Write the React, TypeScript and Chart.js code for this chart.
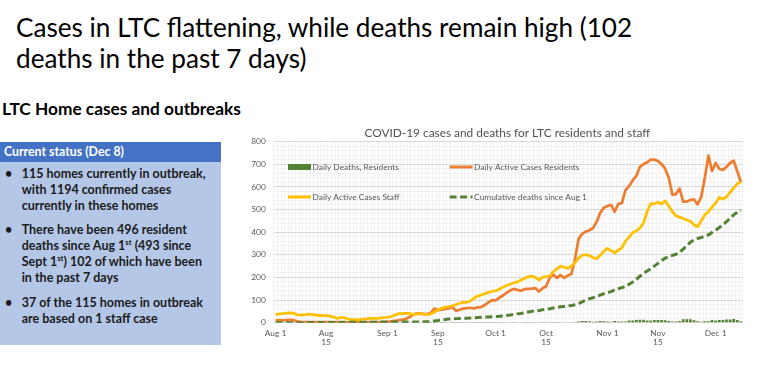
import React, { useEffect, useRef } from "react";
import { Chart, registerables } from "chart.js";

Chart.register(...registerables);

// ---------- DATA ----------
const MONTHS = ["Jan", "Feb", "Mar", "Apr", "May", "Jun", "Jul", "Aug", "Sep", "Oct", "Nov", "Dec"];
const DAY_COUNT = 130; // Aug 1 .. Dec 8
const CATEGORIES: string[] = Array.from({ length: DAY_COUNT }, (_, i) => {
  const d = new Date(2020, 7, 1 + i);
  return `${MONTHS[d.getMonth()]} ${d.getDate()}`;
});

const X_TICK_DATES = ["Aug 1", "Aug 15", "Sep 1", "Sep 15", "Oct 1", "Oct 15", "Nov 1", "Nov 15", "Dec 1"];
const X_TICK_TEXT: (string | string[])[] = [
  "Aug 1", ["Aug", "15"], "Sep 1", ["Sep", "15"], "Oct 1", ["Oct", "15"], "Nov 1", ["Nov", "15"], "Dec 1",
];
const Y_MAX = 800;
const Y_MAJOR = 100;

const DAILY_DEATHS = [
  0, 0, 0, 0, 0, 0, 0, 0, 0, 1,
  0, 0, 0, 0, 0, 0, 0, 0, 0, 1,
  0, 0, 0, 0, 0, 0, 0, 0, 0, 1,
  0, 0, 0, 0, 0, 0, 0, 0, 0, 0,
  0, 1, 0, 1, 3, 2, 3, 1, 2, 1,
  1, 1, 1, 0, 1, 1, 1, 1, 1, 0,
  1, 1, 1, 2, 2, 2, 3, 2, 2, 3,
  3, 3, 2, 2, 3, 3, 2, 3, 3, 2,
  2, 2, 2, 3, 5, 8, 8, 6, 4, 5,
  7, 6, 5, 4, 8, 5, 5, 5, 10, 10,
  12, 13, 13, 10, 10, 12, 12, 12, 11, 7,
  5, 5, 8, 15, 15, 15, 11, 6, 4, 6,
  6, 12, 10, 12, 12, 14, 14, 16, 12, 6,
];

const RESIDENT_ACTIVE = [
  10, 10, 10, 11, 12, 11, 6, 4, 3, 3,
  3, 2, 2, 2, 2, 2, 2, 2, 2, 1,
  1, 1, 1, 1, 1, 2, 2, 2, 2, 3,
  3, 4, 6, 8, 10, 13, 16, 24, 34, 40,
  41, 39, 38, 42, 62, 56, 58, 61, 63, 70,
  52, 57, 62, 64, 66, 63, 68, 69, 78, 90,
  100, 98, 110, 120, 132, 142, 149, 145, 141, 148,
  149, 150, 153, 138, 152, 160, 200, 212, 198, 210,
  198, 208, 215, 280, 370, 392, 402, 408, 418, 445,
  485, 508, 515, 520, 490, 525, 528, 585, 603, 628,
  648, 688, 700, 708, 720, 720, 714, 700, 680, 640,
  565, 568, 592, 535, 535, 542, 544, 522, 555, 640,
  738, 670, 705, 680, 674, 688, 705, 715, 668, 620,
];

const STAFF_ACTIVE = [
  37, 39, 40, 42, 43, 42, 35, 34, 34, 38,
  37, 33, 32, 31, 31, 29, 26, 19, 22, 22,
  16, 15, 13, 13, 16, 17, 19, 19, 19, 20,
  22, 24, 27, 33, 40, 40, 41, 41, 37, 38,
  40, 38, 35, 38, 47, 56, 64, 68, 71, 75,
  80, 86, 90, 90, 96, 108, 118, 122, 128, 134,
  138, 141, 148, 157, 164, 170, 175, 180, 188, 195,
  203, 206, 200, 188, 200, 204, 206, 225, 238, 250,
  245, 240, 250, 265, 285, 298, 300, 296, 288, 282,
  298, 315, 328, 318, 308, 320, 330, 360, 378, 398,
  405, 418, 440, 490, 526, 525, 532, 524, 538, 515,
  490, 472, 466, 460, 453, 448, 432, 424, 450, 476,
  490, 510, 528, 553, 546, 555, 575, 595, 614, 620,
];

const CUMULATIVE_DEATHS = [
  0, 0, 0, 0, 0, 0, 0, 0, 0, 1,
  1, 1, 1, 1, 1, 1, 1, 1, 1, 2,
  2, 2, 2, 2, 2, 2, 2, 2, 2, 3,
  3, 3, 3, 3, 3, 3, 3, 3, 3, 3,
  3, 4, 4, 5, 8, 10, 13, 14, 16, 17,
  18, 19, 20, 20, 21, 22, 23, 24, 25, 25,
  26, 27, 28, 30, 32, 34, 37, 39, 41, 44,
  47, 50, 52, 54, 57, 60, 62, 65, 68, 70,
  72, 74, 76, 79, 84, 92, 100, 106, 110, 115,
  122, 128, 133, 137, 145, 150, 155, 160, 170, 180,
  192, 205, 218, 228, 238, 250, 262, 274, 285, 292,
  297, 302, 310, 325, 340, 355, 366, 372, 376, 382,
  388, 398, 408, 420, 432, 446, 460, 476, 488, 496,
];

const CHART_TITLE = "COVID-19 cases and deaths for LTC residents and staff";
const LEGEND_LABELS = [
  "Daily Deaths, Residents",
  "Daily Active Cases Residents",
  "Daily Active Cases Staff",
  "Cumulative deaths since Aug 1",
];

// ---------- STYLE ----------
const C_ORANGE = "#ED7D31";
const C_YELLOW = "#FFC000";
const C_GREEN = "#548235";
const C_AXIS_TEXT = "#595959";
const FONT = "Lato";

const measureCanvas = typeof document !== "undefined" ? document.createElement("canvas") : null;
function fitSize(text: string, weight: number, target: number): number {
  const ctx = measureCanvas!.getContext("2d")!;
  ctx.font = `${weight} 100px ${FONT}`;
  const w = ctx.measureText(text).width;
  return (100 * target) / w;
}

const CANVAS_LEFT = 230;
const CANVAS_TOP = 118;
const CANVAS_W = 530;
const CANVAS_H = 252;

export default function App() {
  const canvasRef = useRef<HTMLCanvasElement>(null);

  const titleSize = fitSize("Cases in LTC flattening, while deaths remain high (102", 400, 617);
  const subSize = fitSize("LTC Home cases and outbreaks", 700, 239);
  const headSize = fitSize("Current status (Dec 8)", 700, 120);
  const bodySize = fitSize("115 homes currently in outbreak,", 700, 184.5);

  useEffect(() => {
    const chartTitleSize = fitSize(CHART_TITLE, 400, 286);
    const legendSize = fitSize(LEGEND_LABELS[0], 400, 86.5);
    const tickSize = 8.4;

    const overlay = {
      id: "overlay",
      afterDraw(chart: any) {
        const ctx = chart.ctx as CanvasRenderingContext2D;
        const area = chart.chartArea;
        ctx.save();
        ctx.fillStyle = "#505050";
        ctx.font = `400 ${chartTitleSize}px ${FONT}`;
        ctx.textAlign = "center";
        ctx.textBaseline = "middle";
        ctx.fillText(CHART_TITLE, (area.left + area.right) / 2 - 1, 15);

        const cols = [58, 219.6];
        const rows = [49, 79];
        const symW = 23;
        ctx.font = `400 ${legendSize}px ${FONT}`;
        ctx.textAlign = "left";
        LEGEND_LABELS.forEach((label, i) => {
          const x = cols[i % 2];
          const y = rows[Math.floor(i / 2)];
          ctx.save();
          if (i === 0) {
            ctx.fillStyle = C_GREEN;
            ctx.fillRect(x, y - 3, symW, 6);
          } else {
            ctx.strokeStyle = i === 1 ? C_ORANGE : i === 2 ? C_YELLOW : C_GREEN;
            ctx.lineWidth = 3;
            if (i === 3) ctx.setLineDash([7, 3.5]);
            ctx.beginPath();
            ctx.moveTo(x, y);
            ctx.lineTo(x + symW, y);
            ctx.stroke();
          }
          ctx.restore();
          ctx.fillStyle = C_AXIS_TEXT;
          ctx.fillText(label, x + symW + 1.5, y + 0.5);
        });
        ctx.restore();
      },
    };

    const chart = new Chart(canvasRef.current!, {
      type: "bar",
      data: {
        labels: CATEGORIES,
        datasets: [
          {
            type: "bar",
            label: LEGEND_LABELS[0],
            data: DAILY_DEATHS,
            backgroundColor: C_GREEN,
            barPercentage: 0.75,
            categoryPercentage: 1,
            order: 4,
          },
          {
            type: "line",
            label: LEGEND_LABELS[1],
            data: RESIDENT_ACTIVE,
            borderColor: C_ORANGE,
            borderWidth: 2.75,
            pointRadius: 0,
            tension: 0,
            borderJoinStyle: "round",
            order: 3,
          },
          {
            type: "line",
            label: LEGEND_LABELS[2],
            data: STAFF_ACTIVE,
            borderColor: C_YELLOW,
            borderWidth: 2.75,
            pointRadius: 0,
            tension: 0,
            borderJoinStyle: "round",
            order: 2,
          },
          {
            type: "line",
            label: LEGEND_LABELS[3],
            data: CUMULATIVE_DEATHS,
            borderColor: C_GREEN,
            borderWidth: 3,
            borderDash: [7, 3.5],
            pointRadius: 0,
            tension: 0,
            order: 1,
          },
        ] as any,
      },
      options: {
        animation: false,
        responsive: false,
        devicePixelRatio: 1,
        layout: { padding: { top: 23.5, right: 17.3, bottom: 0, left: 0 } },
        plugins: { legend: { display: false }, title: { display: false }, tooltip: { enabled: false } },
        scales: {
          x: {
            offset: true,
            grid: { color: "#f2f2f2", drawTicks: false },
            border: { display: false },
            ticks: {
              autoSkip: false,
              maxRotation: 0,
              minRotation: 0,
              padding: 5.5,
              color: C_AXIS_TEXT,
              font: { family: FONT, size: tickSize, lineHeight: 1.15 },
              callback: (_v: any, index: number) => {
                const k = X_TICK_DATES.indexOf(CATEGORIES[index]);
                return k >= 0 ? X_TICK_TEXT[k] : "";
              },
            },
            afterFit: (s: any) => {
              s.height = 47.3;
            },
          },
          y: {
            min: 0,
            max: Y_MAX,
            grid: {
              drawTicks: false,
              color: (c: any) => (c.tick && c.tick.value % Y_MAJOR === 0 ? "#d9d9d9" : "#f2f2f2"),
            },
            border: { display: false },
            ticks: {
              autoSkip: false,
              stepSize: 20,
              padding: 8,
              color: C_AXIS_TEXT,
              font: { family: FONT, size: tickSize },
              callback: (v: any) => (Number(v) % Y_MAJOR === 0 ? String(v) : ""),
            },
            afterFit: (s: any) => {
              s.width = 43.8;
            },
          },
        },
      },
      plugins: [overlay],
    } as any);
    return () => chart.destroy();
  }, []);

  const abs = (extra: React.CSSProperties): React.CSSProperties => ({
    position: "absolute",
    whiteSpace: "nowrap",
    ...extra,
  });
  const sup: React.CSSProperties = { fontSize: "0.62em", verticalAlign: "super", lineHeight: 0 };
  const bodyLH = 16;
  const bullet = (top: number, lines: React.ReactNode[]) => (
    <div style={abs({ left: 0, top, width: 221 })}>
      <div style={abs({ left: 5, top: 0, fontSize: bodySize, lineHeight: `${bodyLH}px`, fontWeight: 700, color: "#1b1b1b" })}>•</div>
      <div style={abs({ left: 21.7, top: 0, fontSize: bodySize, lineHeight: `${bodyLH}px`, fontWeight: 700, color: "#1b1b1b" })}>
        {lines.map((l, i) => (
          <div key={i}>{l}</div>
        ))}
      </div>
    </div>
  );

  return (
    <div
      style={{
        position: "absolute",
        left: 0,
        top: 0,
        width: 768,
        height: 391,
        background: "#ffffff",
        overflow: "hidden",
        fontFamily: FONT,
        color: "#000",
      }}
    >
      <div style={abs({ left: 16, top: 37 - 15 - 0.387 * titleSize, fontSize: titleSize, lineHeight: "31px", fontWeight: 400 })}>
        <div>Cases in LTC flattening, while deaths remain high (102</div>
        <div>deaths in the past 7 days)</div>
      </div>
      <div style={abs({ left: 2, top: 115.5 - 10 - 0.387 * subSize, fontSize: subSize, lineHeight: "20px", fontWeight: 700 })}>
        LTC Home cases and outbreaks
      </div>

      <div style={abs({ left: 0, top: 142, width: 221, height: 203, background: "#B4C7E7" })} />
      <div style={abs({ left: 0, top: 142, width: 221, height: 20.3, background: "#4472C4" })} />
      <div style={abs({ left: 4, top: 141.5, fontSize: headSize, lineHeight: "20px", fontWeight: 700, color: "#fff" })}>
        Current status (Dec 8)
      </div>
      {bullet(166, ["115 homes currently in outbreak,", "with 1194 confirmed cases", "currently in these homes"])}
      {bullet(222, [
        "There have been 496 resident",
        <span>deaths since Aug 1<span style={sup}>st</span> (493 since</span>,
        <span>Sept 1<span style={sup}>st</span>) 102 of which have been</span>,
        "in the past 7 days",
      ])}
      {bullet(295, ["37 of the 115 homes in outbreak", "are based on 1 staff case"])}

      <canvas
        ref={canvasRef}
        width={CANVAS_W}
        height={CANVAS_H}
        style={{ position: "absolute", left: CANVAS_LEFT, top: CANVAS_TOP, width: CANVAS_W, height: CANVAS_H }}
      />
    </div>
  );
}
